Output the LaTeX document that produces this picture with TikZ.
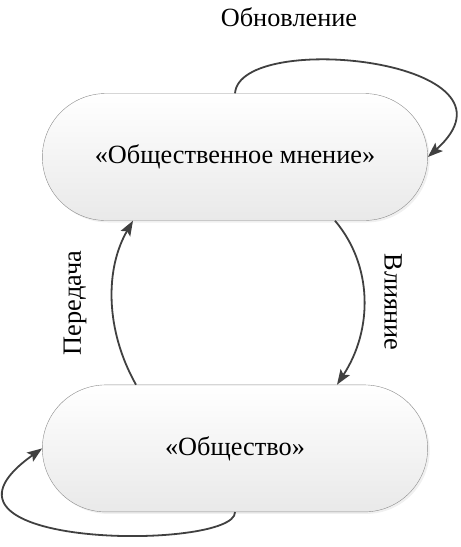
\documentclass[tikz,border=0pt]{standalone}
\usepackage{fontspec}
\setmainfont{Liberation Serif}
\usetikzlibrary{arrows.meta,positioning}
\usetikzlibrary{shapes.misc,shadows}
\definecolor{linkgray}{HTML}{404040}
\definecolor{rimgray}{HTML}{8C8C8C}
\definecolor{basegray}{HTML}{E9E9E9}
\tikzstyle{phase}=[rounded rectangle, draw=rimgray, top color=white, bottom color=basegray, minimum width=392pt, minimum height=127pt, drop shadow={opacity=0.12, shadow xshift=2pt, shadow yshift=-2pt}]
\tikzstyle{flow}=[->, line width=1.8pt, draw=linkgray]
\tikzstyle{lbl}=[inner sep=0pt]

\begin{document}
\begin{tikzpicture}[x=1pt, y=-1pt, >={Stealth[length=15pt,width=11pt,inset=3pt]}, font=\fontsize{26.3}{31}\selectfont]
\useasboundingbox (0,0) rectangle (461,547);
\node[phase] (opinion) at (235,157) {«Общественное мнение»};
\node[phase, below=164pt of opinion] (society) {«Общество»};
\node[lbl] (renew) at (289,17) {Обновление};
\node[lbl, rotate=90] (pass) at (75,303) {Передача};
\node[lbl, rotate=-90] (effect) at (393,302) {Влияние};
\coordinate (os) at ([xshift=-102pt]opinion.south);
\coordinate (oe) at ([xshift=100pt]opinion.south);
\coordinate (sw) at ([xshift=-99pt]society.north);
\coordinate (se) at ([xshift=102pt]society.north);
\draw[flow] (opinion.north) .. controls +(5,-64) and +(108,-97) .. (opinion.east);
\draw[flow] (sw) .. controls +(-31,-55) and +(-28,48) .. (os);
\draw[flow] (oe) .. controls +(38,45) and +(36,-55) .. (se);
\draw[flow] (society.south) .. controls +(1,39) and +(-142,101) .. (society.west);
\end{tikzpicture}
\end{document}
